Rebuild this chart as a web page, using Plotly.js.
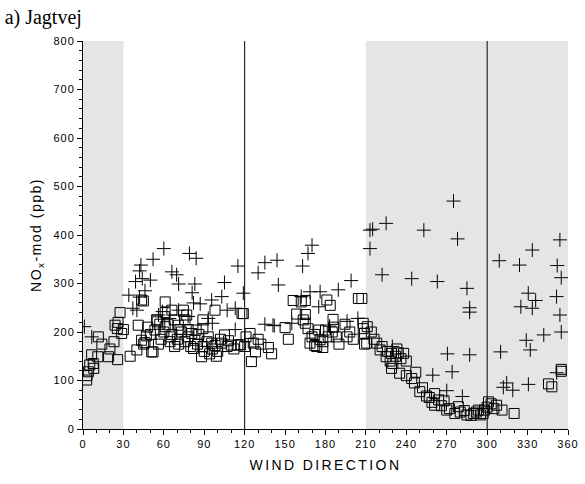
<!DOCTYPE html>
<html>
<head>
<meta charset="utf-8">
<script src="https://cdn.plot.ly/plotly-3.0.1.min.js"></script>
<style>
  html, body { margin: 0; padding: 0; background: #fff; }
  #chart { width: 585px; height: 484px; }
  .xtick text, .ytick text { letter-spacing: 1px; }
  .xtitle { letter-spacing: 2.4px; }
  .ytitle { letter-spacing: 1.5px; }
</style>
</head>
<body>
<div id="chart"></div>
<script>
// Wind direction sectors shaded grey, and reference directions
const shadedSectors = [[0, 30], [210, 360]];
const refDirections = [120, 300];

// Series "+" (crosses)
const crossDir = [1,6.5,60,52,43,42,66,69.5,39,50,44,46,34,42,37,40,59,71,56,79,84,115,135,130,71,105,83,119,81,103,95.5,82,87,107,113,93,135,142,170,167,144,163,145,168.5,176,189.5,162,175,199,204,141,213,213,225,215,253,275,278,222,244,263,285,287,287,309,324,333.5,354,352,355,330.5,336,351.5,325,333.5,354,342,355,329,332,310,270.5,287,259.6,274,229.6,314.5,312,319,330.6,270,281.6,351.6,64,78,96,113,155,183,196];
const crossNOx = [211,190,372,350,338,326,324,318,304,307,310,285,276,272,249,245,242,245,235,362,352,336,343,322,299,302,299,280,281,273,266,260,258,245,249,228,216,213,379,362,348,336,297,283,283,287,273,252,306,228,214,410,372,424,412,410,470,392,318,310,304,290,250,241,347,338,369,390,337,312,280,265,273,252,249,235,194,200,183,163,159,155,153,111,118,170,95,86,80,92,79,67,116,228,232,218,205,218,212,222];

// Series squares
const sqDir = [2.7,4,7.6,6.4,11,19,25.7,11.4,27.5,23.8,25.5,23,28.7,30,5,3,8,14,20,26,35,40,43.5,46,52,41,43.5,61,55,57,66,44.8,54.7,61,68,77,70.7,73,64.6,60,53.4,47,45,51,64.6,68,75.7,83,82,89,88,95.5,98,93,80.7,84,89,105,103,110,115,120,98,89,75.7,74.5,61,118,66,70,72,78,85,90,92,96,100,102,107,108,112,80,86,94,99,63,58,50,48,56,78,71,
  119,124,121,126.4,117,128,125,137.6,140,150,152.4,156,165,162,158.6,165,165,163.5,167,175,168.5,172,176,181,183.5,185.6,180,182,188,194.5,204.4,200.6,208,209,178,173.5,130,132,170,185,190,196,198,178,172,186,
  207,208,211,209,210.6,218,220.5,229,225,234,238,230,235,229,244,247,250,255,261,264,261,270,276,278.6,285,290,293.5,297,301,298,307,311,320,345.5,348,355,355,214,216,222,226,232,236,240,233,228,257,259,266,268,272,280,283,288,292,295,300,303,305,252,246,240];
const sqNOx = [101,118,135,153,149,149,143,190,240,214,207,180,197,205,132,110,125,175,165,220,150,163,183,178,159,214,266,262,221,216,245,264,225,211,225,235,214,200,190,200,204,192,175,159,180,170,180,183,166,170,149,177,172,190,197,204,207,194,177,173,173,170,245,225,225,245,240,238,195,185,205,190,175,160,180,165,160,185,170,182,165,170,195,155,150,215,185,195,210,175,205,175,
  238,197,190,177,174,159,139,168,155,209,185,265,265,262,237,236,218,225,207,204,177,172,184,266,255,226,204,190,190,216,269,185,207,175,168,170,185,175,190,200,175,190,200,180,195,210,
  269,218,211,197,177,177,163,156,149,157,156,135,115,125,104,117,77,68,73,60,49,39,32,46,29,32,39,32,56,39,49,39,32,93,87,123,119,200,185,170,160,150,145,140,165,140,65,55,48,58,42,35,38,28,35,29,45,52,42,85,95,110];

const traces = [
  {
    x: sqDir, y: sqNOx, type: 'scatter', mode: 'markers', name: 'squares',
    marker: { symbol: 'square-open', size: 10, color: '#000', line: { width: 1, color: '#000' } },
    hoverinfo: 'x+y'
  },
  {
    x: crossDir, y: crossNOx, type: 'scatter', mode: 'markers', name: 'crosses',
    marker: { symbol: 'cross-thin-open', size: 10, color: '#000', line: { width: 1, color: '#000' } },
    hoverinfo: 'x+y'
  }
];

const shapes = [];
shadedSectors.forEach(s => shapes.push({
  type: 'rect', xref: 'x', yref: 'y', x0: s[0], x1: s[1], y0: 0, y1: 800,
  fillcolor: '#e5e5e5', line: { width: 0 }, layer: 'below'
}));
refDirections.forEach(d => shapes.push({
  type: 'line', xref: 'x', yref: 'y', x0: d, x1: d, y0: 0, y1: 800,
  line: { color: '#000', width: 1 }, layer: 'above'
}));

const sans = 'Liberation Sans';
const tickFont = { family: sans, size: 11, color: '#000' };

const layout = {
  width: 585, height: 484,
  margin: { l: 83, r: 17, t: 41, b: 55 },
  paper_bgcolor: '#fff', plot_bgcolor: '#fff',
  showlegend: false,
  title: {
    text: 'a) Jagtvej', x: 0.008, xanchor: 'left', xref: 'container',
    y: 0.965, yanchor: 'middle', yref: 'container',
    font: { family: 'Liberation Serif', size: 20, color: '#000' }
  },
  xaxis: {
    range: [0, 360], tick0: 0, dtick: 30, showgrid: false, zeroline: false,
    showline: true, linecolor: '#000', linewidth: 1,
    ticks: 'outside', ticklen: 5, tickwidth: 1, tickcolor: '#000',
    minor: { dtick: 10, ticks: 'outside', ticklen: 3, tickcolor: '#000', showgrid: false },
    tickfont: tickFont,
    title: { text: 'WIND DIRECTION', standoff: 10, font: { family: sans, size: 14, color: '#000' } }
  },
  yaxis: {
    range: [0, 800], tick0: 0, dtick: 100, showgrid: false, zeroline: false,
    showline: true, linecolor: '#000', linewidth: 1,
    ticks: 'outside', ticklen: 5, tickwidth: 1, tickcolor: '#000',
    minor: { dtick: 20, ticks: 'outside', ticklen: 3, tickcolor: '#000', showgrid: false },
    tickfont: tickFont,
    title: { text: 'NO<sub>x</sub>-mod (ppb)', standoff: 8, font: { family: sans, size: 14, color: '#000' } }
  },
  shapes: shapes
};

Plotly.newPlot('chart', traces, layout, { displayModeBar: false, staticPlot: true });
</script>
</body>
</html>
